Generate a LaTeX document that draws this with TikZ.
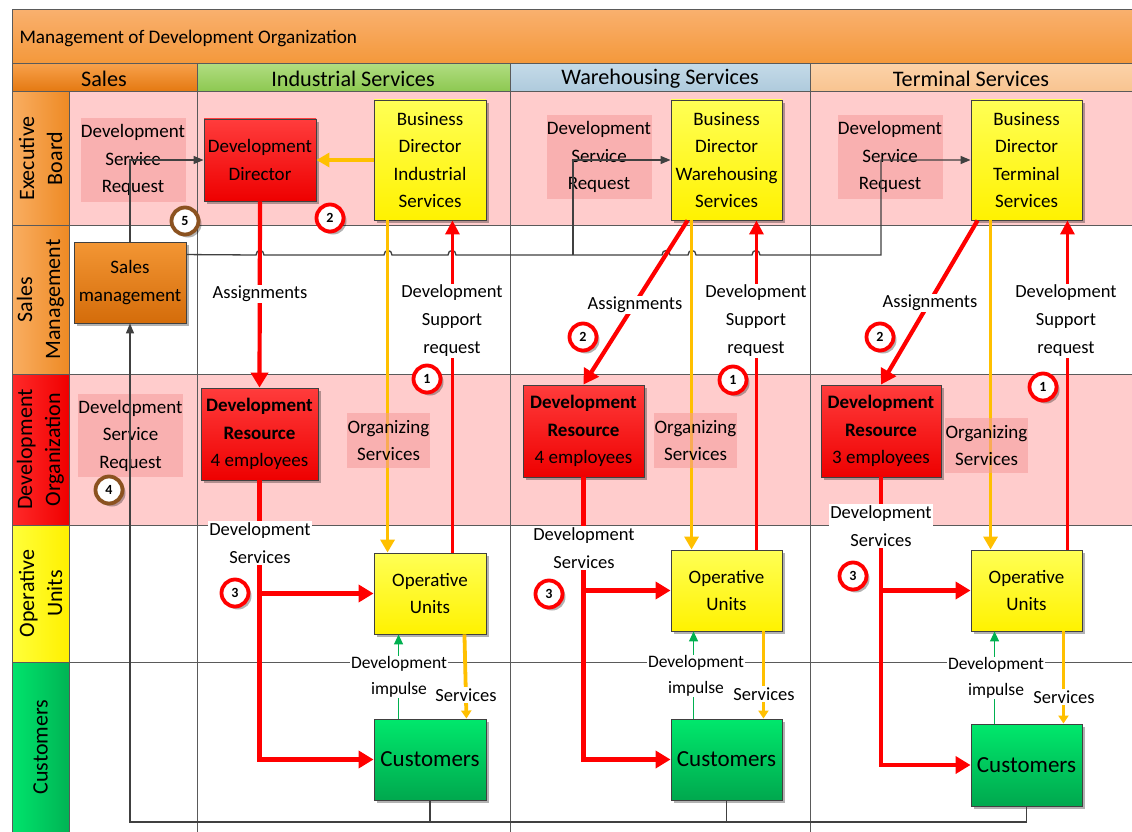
\documentclass[tikz,border=0pt]{standalone}
\usepackage{fontspec}
\setmainfont{Carlito}
\usetikzlibrary{arrows.meta,shadows,calc}
\definecolor{frame}{HTML}{404040}
\definecolor{gridc}{HTML}{5A5A5A}
\definecolor{rowpink}{HTML}{FFCCCC}
\definecolor{lblpink}{HTML}{F59A9A}
\definecolor{myred}{HTML}{FF0000}
\definecolor{myorange}{HTML}{FFC000}
\definecolor{mygreen}{HTML}{00B050}
\definecolor{brownc}{HTML}{8B5220}
\definecolor{titletop}{HTML}{F9B06E}
\definecolor{titlebot}{HTML}{F4983A}
\definecolor{salestop}{HTML}{F7A04A}
\definecolor{salesbot}{HTML}{E47810}
\definecolor{indtop}{HTML}{B0DC80}
\definecolor{indbot}{HTML}{8CC850}
\definecolor{waretop}{HTML}{C4DAE8}
\definecolor{warebot}{HTML}{AECADC}
\definecolor{termtop}{HTML}{FCD2A8}
\definecolor{termbot}{HTML}{F8C490}
\definecolor{orl}{HTML}{F9AE62}
\definecolor{orr}{HTML}{EE8A24}
\definecolor{redl}{HTML}{FF2A2A}
\definecolor{redr}{HTML}{F00000}
\definecolor{yell}{HTML}{FFFF3A}
\definecolor{yelr}{HTML}{FFF000}
\definecolor{grnl}{HTML}{00E46C}
\definecolor{grnr}{HTML}{00B454}
\definecolor{rbtop}{HTML}{FF3C3C}
\definecolor{rbbot}{HTML}{EE0000}
\definecolor{ybtop}{HTML}{FFFF55}
\definecolor{ybbot}{HTML}{FFF200}
\definecolor{gbtop}{HTML}{00E86C}
\definecolor{gbbot}{HTML}{00A84E}
\definecolor{obtop}{HTML}{F39634}
\definecolor{obbot}{HTML}{D46C0A}
\newcommand\myfs[2]{\fontsize{#1}{#2}\selectfont}
\begin{document}
\begin{tikzpicture}[x=1pt,y=-1pt,
  shad/.style={drop shadow={shadow xshift=3pt,shadow yshift=-3pt,fill=black,opacity=0.3}},
  box/.style={draw=frame,line width=0.9pt,inner sep=0pt,align=center,shad,font=\myfs{19}{27.5}},
  redbox/.style={box,top color=rbtop,bottom color=rbbot},
  yelbox/.style={box,top color=ybtop,bottom color=ybbot},
  grnbox/.style={box,top color=gbtop,bottom color=gbbot},
  orbox/.style={box,top color=obtop,bottom color=obbot},
  plbl/.style={fill=lblpink,fill opacity=0.55,text opacity=1,inner sep=0pt,align=center,font=\myfs{19}{27.5}},
  lbl/.style={fill=white,inner sep=1.5pt,align=center,font=\myfs{18.5}{28}},
  slbl/.style={fill=white,inner sep=1pt,align=center,font=\myfs{17.5}{26}},
  circ/.style={circle,draw=myred,line width=3.8pt,fill=white,minimum size=27pt,inner sep=0pt,font=\bfseries\myfs{14}{14},shad},
  bcirc/.style={circ,draw=brownc},
  rowlbl/.style={rotate=90,align=center,font=\myfs{22}{28}},
  hdr/.style={font=\myfs{22.2}{24}},
  gridl/.style={draw=gridc,line width=1pt},
  redarr/.style={draw=myred,line width=4.2pt,-{Triangle[width=17pt,length=15pt]}},
  redthin/.style={draw=myred,line width=3.2pt,-{Triangle[width=14pt,length=14pt]}},
  orarr/.style={draw=myorange,line width=3.8pt,-{Triangle[width=14pt,length=13pt]}},
  orsmall/.style={draw=myorange,line width=3.8pt,-{Triangle[width=10pt,length=8pt]}},
  grnarr/.style={draw=mygreen,line width=1.3pt,-{Triangle[width=9pt,length=10pt]}},
  grayln/.style={draw=frame,line width=1.3pt},
  grayarr/.style={grayln,-{Triangle[width=8pt,length=10pt]}},
]
\useasboundingbox (0,0) rectangle (1132,832);
\fill[white] (0,0) rectangle (1132,832);
% backgrounds
\fill[rowpink] (69,92) rectangle (1132,225);
\fill[rowpink] (69,374) rectangle (1132,525);
\shade[top color=titletop,bottom color=titlebot] (12,10) rectangle (1132,64);
\shade[top color=salestop,bottom color=salesbot] (12,64) rectangle (197,92);
\shade[top color=indtop,bottom color=indbot] (197,64) rectangle (510,92);
\shade[top color=waretop,bottom color=warebot] (510,64) rectangle (810,92);
\shade[top color=termtop,bottom color=termbot] (810,64) rectangle (1132,92);
\shade[left color=orl,right color=orr] (12,92) rectangle (69,225);
\shade[left color=orl,right color=orr] (12,225) rectangle (69,374);
\shade[left color=redl,right color=redr] (12,374) rectangle (69,525);
\shade[left color=yell,right color=yelr] (12,525) rectangle (69,662);
\shade[left color=grnl,right color=grnr] (12,662) rectangle (69,832);
% grid
\draw[gridl] (12,832) -- (12,10) -- (1132,10);
\foreach \yy in {64,92,225,374,525,662} \draw[gridl] (12,\yy) -- (1132,\yy);
\draw[gridl] (69,92) -- (69,832);
\foreach \xx in {197,510,810} \draw[gridl] (\xx,64) -- (\xx,832);
% header texts
\node[anchor=west,font=\myfs{19.2}{22}] (title) at (16,38.5) {Management of Development Organization};
\node[hdr] (hsales) at (104,78.5) {Sales};
\node[hdr] (hind) at (353,78.5) {Industrial Services};
\node[hdr] (hware) at (660,78.5) {Warehousing Services};
\node[hdr] (hterm) at (971,78.5) {Terminal Services};
\node[rowlbl] (rexec) at (40.5,158.5) {Executive\\Board};
\node[rowlbl] (rsales) at (40.5,299.5) {Sales\\Management};
\node[rowlbl] (rdev) at (40.5,449.5) {Development\\Organization};
\node[rowlbl] (rop) at (40.5,593.5) {Operative\\Units};
\node[rowlbl] (rcust) at (40.5,747) {Customers};
% pink labels
\node[plbl,minimum width=105,minimum height=84] (dsr1) at (133,160) {Development\\Service\\Request};
\node[plbl,minimum width=105,minimum height=83] (dsr2) at (599,157) {Development\\Service\\Request};
\node[plbl,minimum width=105,minimum height=83] (dsr3) at (890,157) {Development\\Service\\Request};
\node[plbl,minimum width=105,minimum height=83] (dsr4) at (130.5,435.5) {Development\\Service\\Request};
% boxes
\node[redbox,minimum width=112,minimum height=82] (dd) at (260,160) {Development\\Director};
\node[yelbox,minimum width=112,minimum height=120] (bdi) at (430,160) {Business\\Director\\Industrial\\Services};
\node[yelbox,minimum width=111,minimum height=120] (bdw) at (726.5,160) {Business\\Director\\Warehousing\\Services};
\node[yelbox,minimum width=111,minimum height=120] (bdt) at (1026.5,160) {Business\\Director\\Terminal\\Services};
\node[orbox,minimum width=112,minimum height=81] (sm) at (130,282.5) {Sales\\management};
\node[redbox,minimum width=117,minimum height=92] (dri) at (259.5,434) {\textbf{Development}\\\textbf{Resource}\\4 employees};
\node[redbox,minimum width=121,minimum height=92] (drw) at (583.5,431) {\textbf{Development}\\\textbf{Resource}\\4 employees};
\node[redbox,minimum width=120,minimum height=92] (drt) at (881,431) {\textbf{Development}\\\textbf{Resource}\\3 employees};
\node[yelbox,minimum width=112,minimum height=81] (oui) at (430,593.5) {Operative\\Units};
\node[yelbox,minimum width=111,minimum height=81] (ouw) at (726.5,590.5) {Operative\\Units};
\node[yelbox,minimum width=111,minimum height=81] (out) at (1026.5,590.5) {Operative\\Units};
\node[grnbox,minimum width=112,minimum height=81,font=\myfs{23}{27}] (cui) at (430,759.5) {Customers};
\node[grnbox,minimum width=111,minimum height=81,font=\myfs{23}{27}] (cuw) at (726.5,759.5) {Customers};
\node[grnbox,minimum width=111,minimum height=82,font=\myfs{23}{27}] (cut) at (1026.5,765) {Customers};
% gray connectors
\draw[grayarr] (sm.north) |- (dd.west);
\draw[grayarr] ($(sm.north east)+(0,13)$) -- (256,255) .. controls (256,249) and (264,249) .. (264,255)
  -- (384,255) .. controls (384,249) and (392,249) .. (392,255)
  -- (448,255) .. controls (448,249) and (456,249) .. (456,255)
  -- (662,255) .. controls (662,249) and (670,249) .. (670,255)
  -- (688,255) .. controls (688,249) and (696,249) .. (696,255)
  -- (752,255) .. controls (752,249) and (760,249) .. (760,255)
  -- (881,255) |- (bdt.west);
\coordinate (br) at (573,255);
\draw[grayarr] (br) |- (bdw.west);
\draw[grayarr] (cut.south) |- (130,822) -- (sm.south);
\draw[grayln] (cui.south) -- (cui.south |- 0,822);
\draw[grayln] (cuw.south) -- (cuw.south |- 0,822);
% industrial
\draw[orarr] (bdi.west) -- (dd.east);
\draw[redarr] (dd.south) -- (dri.north);
\draw[redarr] (dri.south) |- (cui.west);
\draw[redarr] (dri.south |- oui.west) -- (oui.west);
\draw[orarr] ($(bdi.south west)+(14,0)$) -- ($(oui.north west)+(14,0)$);
\draw[redthin] ($(oui.north east)+(-34,0)$) -- ($(bdi.south east)+(-34,0)$);
\draw[grnarr] ($(cui.north west)+(25,0)$) -- ($(oui.south west)+(25,0)$);
\draw[orsmall] ($(oui.south east)+(-22,0)$) -- ($(cui.north east)+(-20,0)$);
% warehousing
\draw[redarr] ($(bdw.south west)+(17,0)$) -- (drw.north);
\draw[redarr] (drw.south) |- (cuw.west);
\draw[redarr] (drw.south |- ouw.west) -- (ouw.west);
\draw[orarr] ($(bdw.south west)+(21,0)$) -- ($(ouw.north west)+(21,0)$);
\draw[redthin] ($(ouw.north east)+(-26,0)$) -- ($(bdw.south east)+(-26,0)$);
\draw[grnarr] ($(cuw.north west)+(23,0)$) -- ($(ouw.south west)+(23,0)$);
\draw[orsmall] ($(ouw.south east)+(-19,0)$) -- ($(cuw.north east)+(-19,0)$);
% terminal
\draw[redarr] ($(bdt.south west)+(7,0)$) -- (drt.north);
\draw[redarr] (drt.south) |- (cut.west);
\draw[redarr] (drt.south |- out.west) -- (out.west);
\draw[orarr] ($(bdt.south west)+(20,0)$) -- ($(out.north west)+(20,0)$);
\draw[redthin] ($(out.north east)+(-15,0)$) -- ($(bdt.south east)+(-15,0)$);
\draw[grnarr] ($(cut.north west)+(24,0)$) -- ($(out.south west)+(24,0)$);
\draw[orsmall] ($(out.south east)+(-19,0)$) -- ($(cut.north east)+(-19,0)$);
% organizing services
\node[plbl,minimum width=83,minimum height=55] (osi) at (388.5,440.5) {Organizing\\Services};
\node[plbl,minimum width=83,minimum height=55] (osw) at (695.5,440.5) {Organizing\\Services};
\node[plbl,minimum width=83,minimum height=55] (ost) at (986.5,445.5) {Organizing\\Services};
% connector labels
\node[lbl] (ai) at (260,294) {Assignments};
\node[lbl] (si) at (452,321) {Development\\Support\\request};
\node[lbl] (dsi) at (260,543) {Development\\Services};
\node[slbl] (dii) at (399,677) {Development\\impulse};
\node[lbl] (svi) at (466,695) {Services};
\node[lbl] (aw) at (635,305) {Assignments};
\node[lbl] (sw) at (756,321) {Development\\Support\\request};
\node[lbl] (dsw) at (584,548) {Development\\Services};
\node[slbl] (diw) at (696,676) {Development\\impulse};
\node[lbl] (svw) at (764,694) {Services};
\node[lbl] (at) at (930,303) {Assignments};
\node[lbl] (st) at (1066,321) {Development\\Support\\request};
\node[lbl] (dst) at (881,526) {Development\\Services};
\node[slbl] (dit) at (996,678) {Development\\impulse};
\node[lbl] (svt) at (1064,697) {Services};
% numbered circles
\node[bcirc] (n5) at (185,221) {5};
\node[bcirc] (n4) at (109,490) {4};
\node[circ] (n2i) at (330,218) {2};
\node[circ] (n1i) at (427,379) {1};
\node[circ] (n3i) at (235,593) {3};
\node[circ] (n2w) at (583,337) {2};
\node[circ] (n1w) at (733,380) {1};
\node[circ] (n3w) at (549,594) {3};
\node[circ] (n2t) at (880,337) {2};
\node[circ] (n1t) at (1043,387) {1};
\node[circ] (n3t) at (853,576) {3};
\end{tikzpicture}
\end{document}
